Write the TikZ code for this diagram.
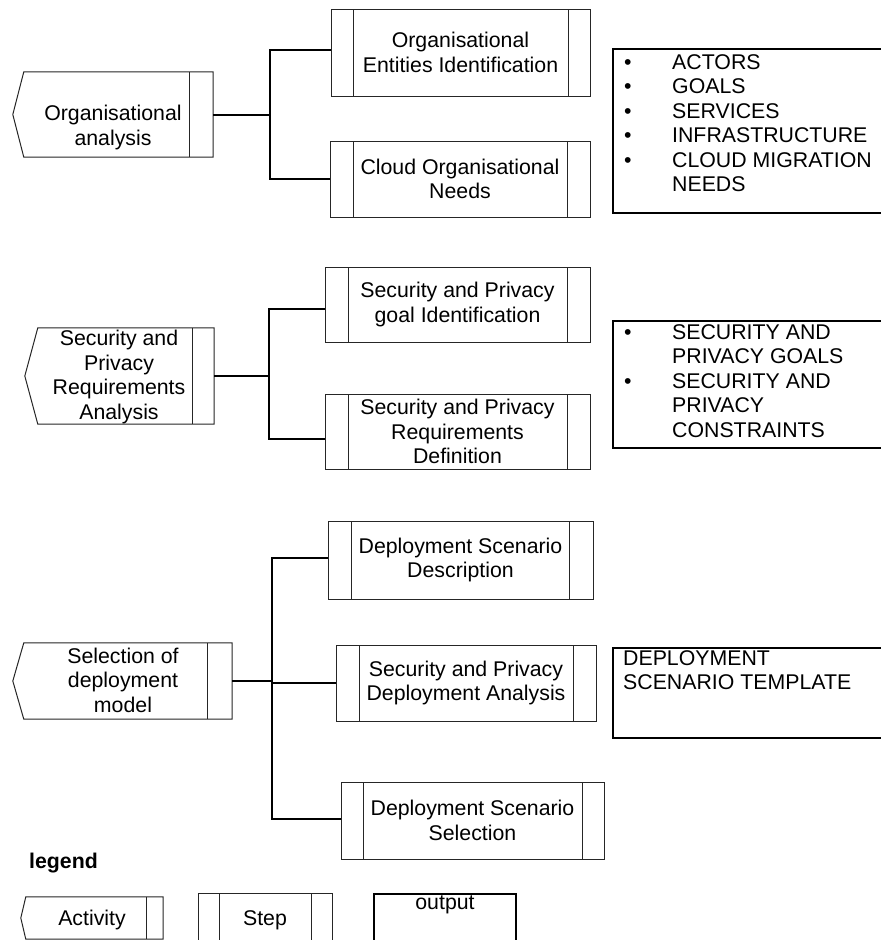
\documentclass[tikz,border=0pt]{standalone}
\usepackage{fontspec}
\setmainfont{Liberation Sans}
% outline of an activity: a box with a pointed left side and a bar on the right
\newcommand\actoutline[3]{%
  \draw[boxline] ([xshift=-#2]#1.west) -- (#1.north west) -- (#1.north east)
    -- (#1.south east) -- (#1.south west) -- cycle;
  \draw[boxline] ([xshift=-#3]#1.north east) -- ([xshift=-#3]#1.south east);}
\begin{document}
\begin{tikzpicture}[x=1pt,y=-1pt,
  every node/.style={font=\fontsize{21.3}{24.4}\selectfont, inner sep=0pt},
  boxline/.style={draw=black!85, line width=1pt},
  conn/.style={draw=black, line width=2pt},
  stepbox/.style={boxline, align=center,
    path picture={\draw[black!85, line width=1pt]
      ([xshift=#1]path picture bounding box.north west) --
      ([xshift=#1]path picture bounding box.south west)
      ([xshift=-#1]path picture bounding box.north east) --
      ([xshift=-#1]path picture bounding box.south east);}},
  stepbox/.default=22pt,
  actbox/.style={draw=none},
  outbox/.style={draw=black, line width=2pt, anchor=north west},
  outtext/.style={anchor=north west, align=left}]
\useasboundingbox (0,0) rectangle (881,940);
\clip (0,0) rectangle (881,940);
\fill[white] (0,0) rectangle (881,940);

% ---------- organisational analysis ----------
\node[actbox, minimum width=189pt, minimum height=85pt] (A1) at (118.5,114.5) {};
\actoutline{A1}{11pt}{24pt}
\node[align=center] (A1t) at (113,127.5) {Organisational\\analysis};

\node[stepbox=22pt, minimum width=259pt, minimum height=87pt] (S1) at (460.5,52.5)
  {Organisational\\Entities Identification};
\node[stepbox=23pt, minimum width=260pt, minimum height=76pt] (S2) at (460,179)
  {Cloud Organisational\\Needs};

\coordinate (T1) at (270,114.5);
\draw[conn] (A1.east) -- (T1);
\draw[conn] ([yshift=2.5pt]S1.west) -| (T1) |- (S2.west);

\node[outbox, minimum width=300pt, minimum height=164pt] (O1) at (612,48) {};
\node[outtext] (O1t) at (624,54.4)
  {\makebox[48pt][l]{•}ACTORS\\
   \makebox[48pt][l]{•}GOALS\\
   \makebox[48pt][l]{•}SERVICES\\
   \makebox[48pt][l]{•}INFRASTRUCTURE\\
   \makebox[48pt][l]{•}CLOUD MIGRATION\\
   \hspace*{48pt}NEEDS};

% ---------- security and privacy requirements analysis ----------
\node[actbox, minimum width=176pt, minimum height=96pt] (A2) at (126,376) {};
\actoutline{A2}{13pt}{22pt}
\node[align=center] (A2t) at (119,377) {Security and\\Privacy\\Requirements\\Analysis};

\node[stepbox=23pt, minimum width=265pt, minimum height=75pt] (S3) at (457.5,304.5)
  {Security and Privacy\\goal Identification};
\node[stepbox=23pt, minimum width=265pt, minimum height=75pt] (S4) at (457.5,431.5)
  {Security and Privacy\\Requirements\\Definition};

\coordinate (T2) at (269,376);
\draw[conn] (A2.east) -- (T2);
\draw[conn] ([yshift=-4.5pt]S3.west) -| (T2) |- ([yshift=-7.5pt]S4.west);

\node[outbox, minimum width=300pt, minimum height=127pt] (O2) at (612,320) {};
\node[outtext] (O2t) at (624,324.4)
  {\makebox[48pt][l]{•}SECURITY AND\\
   \hspace*{48pt}PRIVACY GOALS\\
   \makebox[48pt][l]{•}SECURITY AND\\
   \hspace*{48pt}PRIVACY\\
   \hspace*{48pt}CONSTRAINTS};

% ---------- selection of deployment model ----------
\node[actbox, minimum width=208pt, minimum height=76pt] (A3) at (128,681) {};
\actoutline{A3}{11pt}{25pt}
\node[align=center] (A3t) at (123,680) {Selection of\\deployment\\model};

\node[stepbox=23.5pt, minimum width=265pt, minimum height=78pt] (S5) at (460.5,560)
  {Deployment Scenario\\Description};
\node[stepbox=23pt, minimum width=260pt, minimum height=76pt] (S6) at (466,683)
  {Security and Privacy\\Deployment Analysis};
\node[stepbox=22pt, minimum width=263pt, minimum height=77pt] (S7) at (472.5,820.5)
  {Deployment Scenario\\Selection};

\coordinate (T3) at (272,681);
\draw[conn] (A3.east) -- (T3);
\draw[conn] ([yshift=2pt]S5.west) -| (T3) |- ([yshift=1.5pt]S7.west);
\draw[conn] (S6.west) -- (S6.west -| T3);

\node[outbox, minimum width=300pt, minimum height=90pt] (O3) at (612,647) {};
\node[outtext] (O3t) at (623,650.4) {DEPLOYMENT\\SCENARIO TEMPLATE};

% ---------- legend ----------
\node[anchor=west, font=\fontsize{21.3}{24.4}\selectfont\bfseries] (leg) at (29,863.5) {legend};

\node[actbox, minimum width=137pt, minimum height=42pt] (LA) at (94.5,918) {};
\actoutline{LA}{5pt}{17pt}
\node (LAt) at (92,920) {Activity};

\node[stepbox=21pt, minimum width=134pt, minimum height=54pt] (LS) at (265,920) {Step};

\node[outbox, minimum width=142pt, minimum height=60pt] (LO) at (373,893) {};
\node (LOt) at (445,905) {output};
\end{tikzpicture}
\end{document}
